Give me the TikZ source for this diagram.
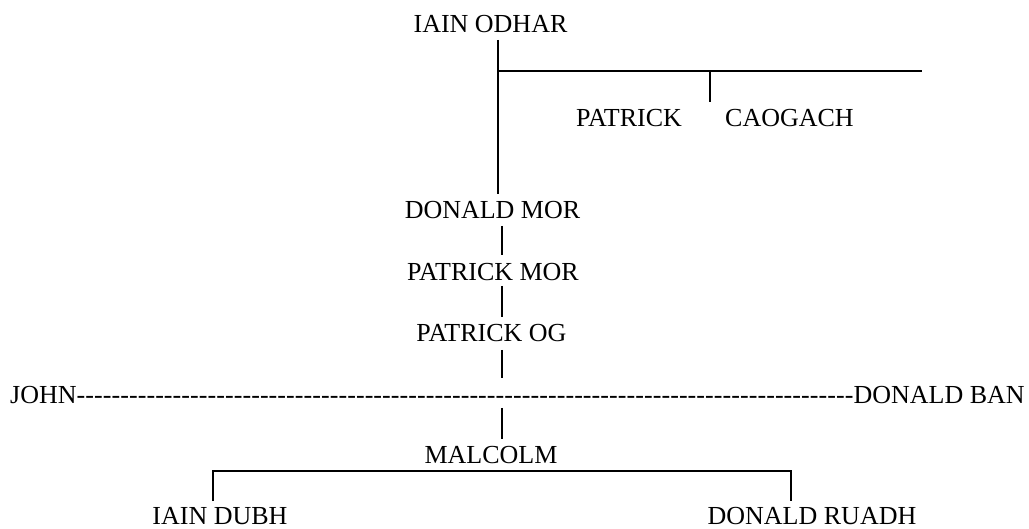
\documentclass[tikz,border=0pt]{standalone}
\usepackage{fontspec}
\setmainfont{Liberation Serif}
\begin{document}
\begin{tikzpicture}[x=1pt,y=-1pt,
  lbl/.style={inner sep=0pt,anchor=base,font=\fontsize{26}{30}\selectfont},
  conn/.style={line width=1.6pt,line cap=butt}]
\useasboundingbox (0,0) rectangle (1029,529);
% names
\node[lbl] (odhar) at (490.5,33) {IAIN ODHAR};
\node[lbl] (patrick) at (629,127) {PATRICK};
\node[lbl] (caogach) at (789.5,127) {CAOGACH};
\node[lbl] (dmor) at (492.5,219) {DONALD MOR};
\node[lbl] (pmor) at (493,281) {PATRICK MOR};
\node[lbl] (pog) at (491.5,342) {PATRICK OG};
\node[lbl,anchor=base west] (johnban) at (10,404)
  {JOHN\hbox to 777pt{\xleaders\hbox{-}\hfill}DONALD BAN};
\node[lbl] (malcolm) at (491,464) {MALCOLM};
\node[lbl] (dubh) at (220,524) {IAIN DUBH};
\node[lbl] (ruadh) at (812,524) {DONALD RUADH};
% junction coordinates
\coordinate (t1) at (498,40);
\coordinate (t2) at (498,194);
\coordinate (j1) at (498,71);
\coordinate (j2) at (922,71);
\coordinate (b1) at (710,71);
\coordinate (b2) at (710,102);
\coordinate (s1a) at (502,226); \coordinate (s1b) at (502,255);
\coordinate (s2a) at (502,286); \coordinate (s2b) at (502,317);
\coordinate (s3a) at (502,350); \coordinate (s3b) at (502,378);
\coordinate (s4a) at (502,408); \coordinate (s4b) at (502,439);
\coordinate (l1) at (213,501); \coordinate (l2) at (213,471);
\coordinate (r2) at (791,471); \coordinate (r1) at (791,501);
% connectors
\draw[conn] (t1) -- (t2);
\draw[conn] (j1) -- (j2);
\draw[conn] (b1) -- (b2);
\draw[conn] (s1a) -- (s1b);
\draw[conn] (s2a) -- (s2b);
\draw[conn] (s3a) -- (s3b);
\draw[conn] (s4a) -- (s4b);
\draw[conn] (l1) -- (l2) -- (r2) -- (r1);
\end{tikzpicture}
\end{document}
